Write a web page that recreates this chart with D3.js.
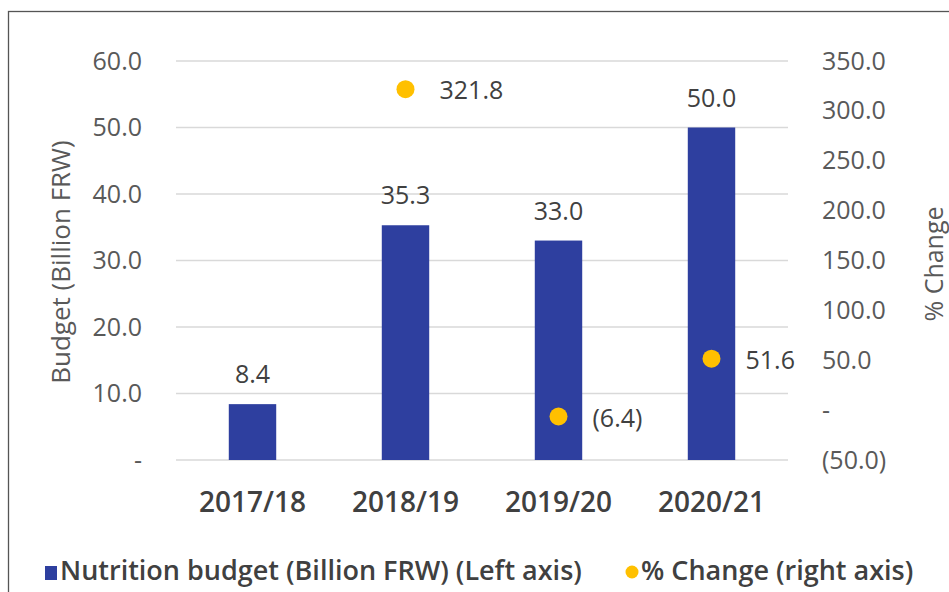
<!DOCTYPE html>
<html>
<head>
<meta charset="utf-8">
<script src="https://cdn.jsdelivr.net/npm/d3@7"></script>
<style>
  html, body { margin: 0; padding: 0; background: #fff; }
  svg { display: block; }
  text { font-family: "Open Sans", "Noto Sans", sans-serif; }
</style>
</head>
<body>
<svg id="chart" width="949" height="592"></svg>
<script>
// Nutrition budget and its year-on-year change
const years = ["2017/18", "2018/19", "2019/20", "2020/21"];
const budget = [8.4, 35.3, 33.0, 50.0];            // Billion FRW (left axis)
const pctChange = [null, 321.8, -6.4, 51.6];        // % change (right axis)
const leftTicks = [0, 10, 20, 30, 40, 50, 60];
const rightTicks = [-50, 0, 50, 100, 150, 200, 250, 300, 350];

const svg = d3.select("#chart");
const W = 949, H = 592;

// Frame around the figure
svg.append("rect")
  .attr("x", 8.5).attr("y", 11.5)
  .attr("width", W + 20).attr("height", H + 20)
  .attr("fill", "none").attr("stroke", "#555").attr("stroke-width", 1.3);

const plot = { left: 176, right: 788, top: 61, bottom: 460 };

const x = d3.scaleBand().domain(years).range([plot.left, plot.right]).paddingInner(0.69).paddingOuter(0.345);
const yL = d3.scaleLinear().domain([0, 60]).range([plot.bottom, plot.top]);
const yR = d3.scaleLinear().domain([-50, 350]).range([plot.bottom, plot.top]);

// accounting-style numbers: zero as a dash, negatives in brackets
const fmt = v => v === 0 ? "-" : (v < 0 ? "(" + d3.format(".1f")(-v) + ")" : d3.format(".1f")(v));

const TXT = "#595959";

// Gridlines
svg.append("g").selectAll("line").data(leftTicks).join("line")
  .attr("x1", plot.left).attr("x2", plot.right)
  .attr("y1", d => yL(d)).attr("y2", d => yL(d))
  .attr("stroke", "#d9d9d9").attr("stroke-width", 1.5);

// Left axis
const axL = svg.append("g").attr("transform", `translate(${plot.left},0)`)
  .call(d3.axisLeft(yL).tickValues(leftTicks).tickFormat(fmt).tickSize(0).tickPadding(34));
axL.select(".domain").remove();
axL.selectAll("text").attr("font-size", 25).attr("fill", TXT)
  .attr("font-family", "'Open Sans', sans-serif");

// Right axis
const axR = svg.append("g").attr("transform", `translate(${plot.right},0)`)
  .call(d3.axisRight(yR).tickValues(rightTicks).tickFormat(fmt).tickSize(0).tickPadding(34));
axR.select(".domain").remove();
axR.selectAll("text").attr("font-size", 25).attr("fill", TXT)
  .attr("font-family", "'Open Sans', sans-serif");

// Category labels
svg.append("g").selectAll("text").data(years).join("text")
  .attr("x", d => x(d) + x.bandwidth() / 2).attr("y", 512)
  .attr("text-anchor", "middle").attr("font-size", 28).attr("font-weight", 600)
  .attr("fill", "#404040").text(d => d);

// Axis titles (both read bottom-to-top)
svg.append("text")
  .attr("transform", "translate(60,262) rotate(-90)")
  .attr("text-anchor", "middle").attr("dominant-baseline", "central")
  .attr("font-size", 26).attr("fill", TXT)
  .text("Budget (Billion FRW)");
svg.append("text")
  .attr("transform", "translate(933,264) rotate(-90)")
  .attr("text-anchor", "middle").attr("dominant-baseline", "central")
  .attr("font-size", 25).attr("fill", TXT)
  .text("% Change");

// Bars
svg.append("g").selectAll("rect").data(years).join("rect")
  .attr("x", d => x(d)).attr("width", x.bandwidth())
  .attr("y", (d, i) => yL(budget[i])).attr("height", (d, i) => yL(0) - yL(budget[i]))
  .attr("fill", "#2e3f9f");

// Bar value labels
svg.append("g").selectAll("text").data(years).join("text")
  .attr("x", d => x(d) + x.bandwidth() / 2)
  .attr("y", (d, i) => yL(budget[i]) - 21)
  .attr("text-anchor", "middle").attr("font-size", 25).attr("fill", "#404040")
  .text((d, i) => d3.format(".1f")(budget[i]));

// % change points
const pts = years.map((d, i) => ({ year: d, v: pctChange[i] })).filter(p => p.v !== null);
svg.append("g").selectAll("circle").data(pts).join("circle")
  .attr("cx", p => x(p.year) + x.bandwidth() / 2).attr("cy", p => yR(p.v))
  .attr("r", 9).attr("fill", "#ffc000");
svg.append("g").selectAll("text").data(pts).join("text")
  .attr("x", p => x(p.year) + x.bandwidth() / 2 + 34).attr("y", p => yR(p.v))
  .attr("dominant-baseline", "central").attr("font-size", 25).attr("fill", "#404040")
  .text(p => fmt(p.v));

// Legend
const lg = svg.append("g").attr("font-size", 27).attr("font-weight", 600);
lg.append("rect").attr("x", 45).attr("y", 566).attr("width", 12).attr("height", 14).attr("fill", "#2e3f9f");
lg.append("text").attr("x", 60).attr("y", 580).attr("fill", "#404040")
  .text("Nutrition budget (Billion FRW) (Left axis)");
lg.append("circle").attr("cx", 632).attr("cy", 572).attr("r", 6.5).attr("fill", "#ffc000");
lg.append("text").attr("x", 641).attr("y", 580).attr("fill", "#404040")
  .text("% Change (right axis)");
</script>
</body>
</html>
